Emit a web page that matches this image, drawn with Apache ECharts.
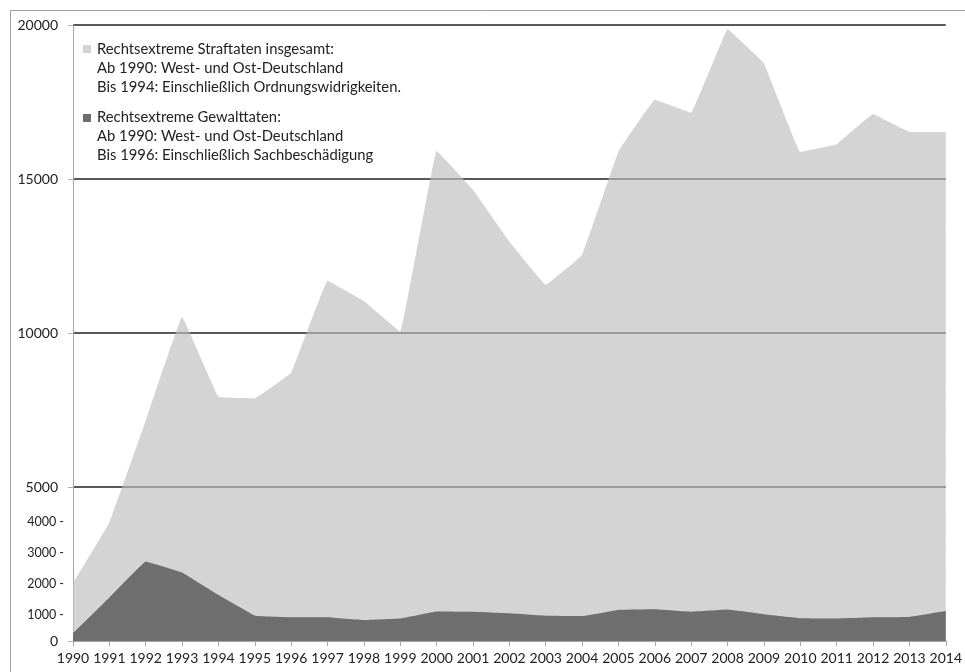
<!DOCTYPE html>
<html>
<head>
<meta charset="utf-8">
<script src="https://cdn.jsdelivr.net/npm/echarts@6/dist/echarts.min.js"></script>
<style>
html,body{margin:0;padding:0;background:#fff;}
#chart{width:965px;height:672px;}
</style>
</head>
<body>
<div id="chart"></div>
<script>
const years = ['1990','1991','1992','1993','1994','1995','1996','1997','1998','1999','2000','2001','2002','2003','2004','2005','2006','2007','2008','2009','2010','2011','2012','2013','2014'];
const straftaten = [1870, 3840, 7150, 10530, 7930, 7880, 8710, 11700, 11040, 10040, 15920, 14650, 12970, 11560, 12530, 15890, 17570, 17150, 19860, 18760, 15880, 16130, 17110, 16530, 16530];
const gewalttaten = [250, 1410, 2580, 2220, 1490, 820, 770, 770, 680, 730, 960, 950, 900, 820, 810, 1010, 1030, 950, 1020, 870, 740, 730, 770, 780, 970];
const legendLines1 = ['Rechtsextreme Straftaten insgesamt:', 'Ab 1990: West- und Ost-Deutschland', 'Bis 1994: Einschließlich Ordnungswidrigkeiten.'];
const legendLines2 = ['Rechtsextreme Gewalttaten:', 'Ab 1990: West- und Ost-Deutschland', 'Bis 1996: Einschließlich Sachbeschädigung'];

const FONT = 'Lato';
const chart = echarts.init(document.getElementById('chart'), null, {renderer: 'canvas'});
const option = {
  backgroundColor: '#fff',
  animation: false,
  textStyle: {fontFamily: FONT},
  grid: {left: 73, right: 19, top: 25, bottom: 31, containLabel: false},
  xAxis: {
    type: 'category',
    data: years,
    boundaryGap: false,
    axisLine: {lineStyle: {color: '#a6a6a6', width: 1}},
    axisTick: {show: true, length: 5, lineStyle: {color: '#a6a6a6'}},
    axisLabel: {color: '#222', fontSize: 14, fontFamily: FONT, margin: 10, interval: 0},
    splitLine: {show: false}
  },
  yAxis: [{
    type: 'value',
    min: 0, max: 20000, interval: 1000,
    axisLine: {show: true, lineStyle: {color: '#a6a6a6'}},
    axisTick: {show: false},
    axisLabel: {
      margin: 9,
      formatter: function (v) {
        if (v === 0) return '{big|0}';
        if (v <= 4000) return '{small|' + v + ' -}';
        if (v % 5000 === 0) return '{big|' + v + '}';
        return '';
      },
      rich: {
        big: {fontSize: 14, color: '#222', fontFamily: FONT, padding: [0, 6, 0, 0]},
        small: {fontSize: 12.5, color: '#222', fontFamily: FONT, padding: [9, 0, 0, 0]}
      }
    },
    splitLine: {show: true, lineStyle: {color: ['#222', 'rgba(0,0,0,0)', 'rgba(0,0,0,0)', 'rgba(0,0,0,0)', 'rgba(0,0,0,0)'], width: 1.6}}
  }, {
    type: 'value',
    position: 'left',
    min: 0, max: 20000, interval: 5000,
    axisLine: {show: false},
    axisTick: {show: true, length: 5, lineStyle: {color: '#b0b0b0'}},
    axisLabel: {show: false},
    splitLine: {show: false}
  }],
  series: [{
    name: 'Rechtsextreme Straftaten insgesamt',
    type: 'line',
    data: straftaten,
    smooth: 0.04,
    symbol: 'none',
    lineStyle: {width: 0},
    areaStyle: {color: '#bdbdbd', opacity: 0.66},
    z: 2
  }, {
    name: 'Rechtsextreme Gewalttaten',
    type: 'line',
    data: gewalttaten,
    smooth: 0.04,
    symbol: 'none',
    lineStyle: {width: 0},
    areaStyle: {color: '#6e6e6e', opacity: 1},
    z: 3
  }],
  graphic: [
    {type: 'line', shape: {x1: 10.5, y1: 10.5, x2: 965, y2: 10.5}, style: {stroke: '#a0a0a0', lineWidth: 1}},
    {type: 'line', shape: {x1: 10.5, y1: 10.5, x2: 10.5, y2: 672}, style: {stroke: '#a0a0a0', lineWidth: 1}},
    {type: 'rect', shape: {x: 83, y: 45, width: 8, height: 8}, style: {fill: '#d4d4d4'}},
    {type: 'text', left: 97, top: 40, style: {text: legendLines1.join('\n'), font: '14.8px ' + FONT, fill: '#222', lineHeight: 19}},
    {type: 'rect', shape: {x: 83, y: 114, width: 8, height: 8}, style: {fill: '#6e6e6e'}},
    {type: 'text', left: 97, top: 108, style: {text: legendLines2.join('\n'), font: '14.8px ' + FONT, fill: '#222', lineHeight: 19}}
  ]
};
chart.setOption(option);
</script>
</body>
</html>
